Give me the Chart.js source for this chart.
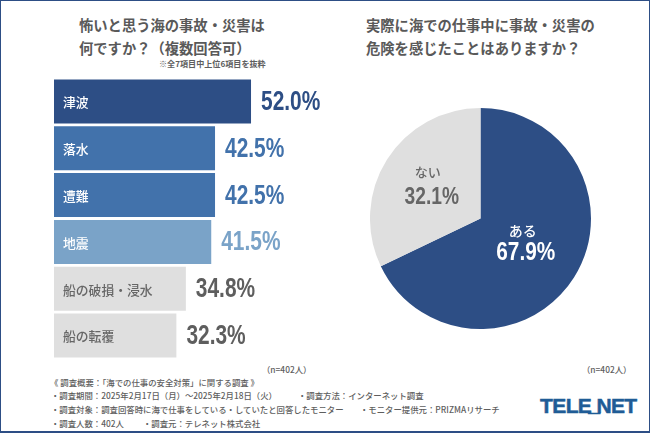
<!DOCTYPE html>
<html lang="ja">
<head>
<meta charset="utf-8">
<script src="https://cdn.jsdelivr.net/npm/chart.js@4"></script>
<style>
  html, body { margin: 0; padding: 0; background: #fff; }
  #page {
    position: relative; width: 650px; height: 434px; overflow: hidden;
    font-family: "Noto Sans CJK JP", sans-serif; color: #595959;
  }
  #frame {
    position: absolute; left: 0; top: 0; width: 650px; height: 433px; box-sizing: border-box;
    border: 1.5px solid #2d4e85; border-bottom-width: 2px;
  }
  canvas { position: absolute; }
  .t { position: absolute; white-space: nowrap; }
  .title { font-size: 14.3px; font-weight: 700; line-height: 23px; }
  .small { font-size: 8.4px; font-weight: 500; line-height: 10px; color: #5e5e5e; }
  #logo {
    position: absolute; left: 540px; top: 394px; font: 700 21px "Liberation Sans", sans-serif;
    color: #1f5c96; letter-spacing: -0.6px; -webkit-text-stroke: 0.5px #1f5c96; white-space: nowrap;
  }
  #logo span { position: relative; top: -2px; margin: 0 -3px; }
</style>
</head>
<body>
<div id="page">
  <div id="frame"></div>
  <div class="t title" style="left:79px;top:13px">怖いと思う海の事故・災害は<br>何ですか？（複数回答可）</div>
  <div class="t small" style="left:159px;top:59px;font-size:8.1px;font-weight:700">※全7項目中上位6項目を抜粋</div>
  <div class="t title" style="left:366px;top:13px">実際に海での仕事中に事故・災害の<br>危険を感じたことはありますか？</div>
  <canvas id="barChart" width="280" height="281" style="left:54px;top:78px"></canvas>
  <canvas id="pieChart" width="221" height="221" style="left:370px;top:108px"></canvas>
  <div class="t small" style="left:262px;top:364px">（n=402人）</div>
  <div class="t small" style="left:582px;top:364px">（n=402人）</div>
  <div class="t small" style="left:50px;top:377px">《 調査概要：「海での仕事の安全対策」に関する調査 》</div>
  <div class="t small" style="left:51px;top:390px">・調査期間：2025年2月17日（月）～2025年2月18日（火）</div>
  <div class="t small" style="left:298px;top:390px">・調査方法：インターネット調査</div>
  <div class="t small" style="left:51px;top:404px">・調査対象：調査回答時に海で仕事をしている・していたと回答したモニター</div>
  <div class="t small" style="left:360px;top:404px">・モニター提供元：PRIZMAリサーチ</div>
  <div class="t small" style="left:51px;top:418px">・調査人数：402人</div>
  <div class="t small" style="left:143px;top:418px">・調査元：テレネット株式会社</div>
  <div id="logo">TELE<span>_</span>NET</div>
</div>
<script>
const barLabels = ["津波", "落水", "遭難", "地震", "船の破損・浸水", "船の転覆"];
const barValues = [52.0, 42.5, 42.5, 41.5, 34.8, 32.3];
const barColors = ["#2d4e85", "#4272ab", "#4272ab", "#7aa3c8", "#dfdfdf", "#dfdfdf"];
const barValueColors = ["#2d4e85", "#4272ab", "#4272ab", "#7aa3c8", "#5e5e5e", "#5e5e5e"];
const barNameColors = ["#fff", "#fff", "#fff", "#fff", "#666", "#666"];

const pieLabels = ["ある", "ない"];
const pieValues = [67.9, 32.1];
const pieColors = ["#2d4e85", "#dfdfdf"];
const pieTextColors = ["#fff", "#666"];

const jpFont = '"Noto Sans CJK JP", sans-serif';
const numFont = '"Liberation Sans", sans-serif';

// the original numbers are a condensed face, so squeeze them horizontally
function drawNarrow(ctx, text, x, y, squeeze) {
  ctx.save();
  ctx.translate(x, y);
  ctx.scale(squeeze, 1);
  ctx.fillText(text, 0, 0);
  ctx.restore();
}

// category names inside the bars and the percent at the bar end
const barTextPlugin = {
  id: "barText",
  afterDatasetsDraw(chart) {
    const ctx = chart.ctx;
    chart.getDatasetMeta(0).data.forEach((bar, i) => {
      ctx.save();
      ctx.textBaseline = "middle";
      ctx.fillStyle = barNameColors[i];
      ctx.font = "500 12.8px " + jpFont;
      ctx.fillText(barLabels[i], 9, bar.y + 1);
      ctx.fillStyle = barValueColors[i];
      ctx.font = "700 27.5px " + numFont;
      drawNarrow(ctx, barValues[i].toFixed(1) + "%", bar.x + 10, bar.y + 1, 0.76);
      ctx.restore();
    });
  },
};

new Chart(document.getElementById("barChart"), {
  type: "bar",
  data: {
    labels: barLabels,
    datasets: [{ data: barValues, backgroundColor: barColors, barPercentage: 0.94, categoryPercentage: 1 }],
  },
  options: {
    indexAxis: "y",
    responsive: false,
    animation: false,
    layout: { padding: 0 },
    scales: {
      x: { display: false, min: 0, max: 73.9 },
      y: { display: false },
    },
    plugins: { legend: { display: false }, tooltip: { enabled: false } },
  },
  plugins: [barTextPlugin],
});

// label and percent stacked on each slice
const pieTextPlugin = {
  id: "pieText",
  afterDatasetsDraw(chart) {
    const ctx = chart.ctx;
    chart.getDatasetMeta(0).data.forEach((arc, i) => {
      const p = arc.tooltipPosition();
      const big = i === 0;
      ctx.save();
      ctx.textBaseline = "middle";
      ctx.fillStyle = pieTextColors[i];
      ctx.textAlign = "center";
      ctx.font = "500 " + (big ? 14 : 13) + "px " + jpFont;
      ctx.fillText(pieLabels[i], p.x + (big ? -4.5 : -6), p.y + (big ? -17.5 : -17));
      ctx.font = "700 " + (big ? 26 : 24) + "px " + numFont;
      drawNarrow(ctx, pieValues[i].toFixed(1) + "%", p.x + (big ? -1.5 : -2), p.y + (big ? 5 : 8), 0.8);
      ctx.restore();
    });
  },
};

new Chart(document.getElementById("pieChart"), {
  type: "pie",
  data: {
    labels: pieLabels,
    datasets: [{ data: pieValues, backgroundColor: pieColors, borderWidth: 0 }],
  },
  options: {
    responsive: false,
    animation: false,
    layout: { padding: 0 },
    plugins: { legend: { display: false }, tooltip: { enabled: false } },
  },
  plugins: [pieTextPlugin],
});
</script>
</body>
</html>
